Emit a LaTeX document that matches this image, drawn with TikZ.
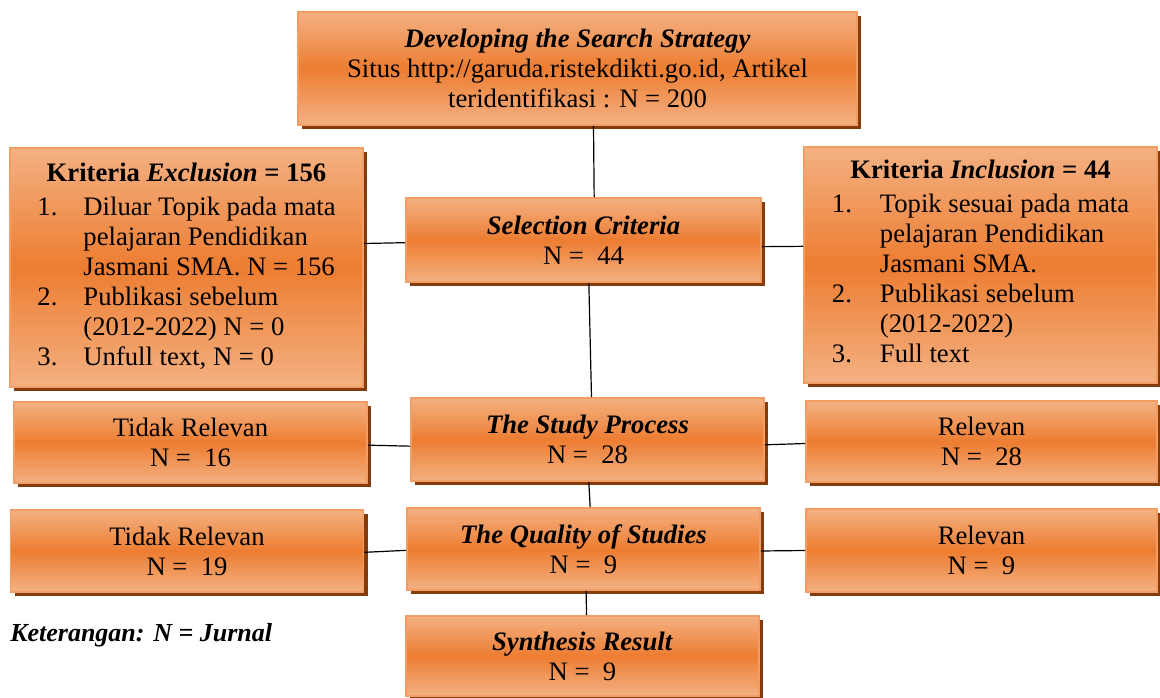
\documentclass[tikz,border=0pt]{standalone}
\usepackage{fontspec}
\setmainfont{Liberation Serif}
\usepackage{array}
\usetikzlibrary{shadows}

\definecolor{boxlight}{RGB}{244,177,131}
\definecolor{boxdark}{RGB}{237,125,49}
\definecolor{boxline}{RGB}{241,157,100}
\definecolor{boxshadow}{RGB}{132,60,12}

\begin{document}
\begin{tikzpicture}[
    x=0.75pt, y=-0.75pt,
    stagebox/.style={rectangle, draw=boxline, line width=1.2pt, top color=boxlight, bottom color=boxlight, middle color=boxdark, minimum width=264.75pt, minimum height=61.5pt, inner sep=2pt, align=center, font=\fontsize{20}{22.5}\selectfont, drop shadow={shadow xshift=3pt, shadow yshift=-3pt, opacity=1, fill=boxshadow}},
    link/.style={draw=black, line width=0.9pt}
]
    \useasboundingbox (0,0) rectangle (1160,698);

    % Main stages
    \node[stagebox, minimum width=419.25pt, minimum height=84.75pt] (search) at (577.5,68.5) {\textbf{\textit{Developing the Search Strategy}}\\Situs http://garuda.ristekdikti.go.id, Artikel\\teridentifikasi : N = 200};
    \node[stagebox, minimum width=266.25pt, minimum height=63pt] (selection) at (583.5,240) {\textbf{\textit{Selection Criteria}}\\N = \ 44};
    \node[stagebox, minimum height=62.25pt] (study) at (587.5,439.5) {\textbf{\textit{The Study Process}}\\N = \ 28};
    \node[stagebox] (quality) at (583.5,549) {\textbf{\textit{The Quality of Studies}}\\N = \ 9};
    \node[stagebox, minimum height=60pt] (synthesis) at (582.5,656) {\textbf{\textit{Synthesis Result}}\\N = \ 9};

    % Criteria
    \node[stagebox, minimum height=179.25pt] (exclusion) at (186.5,267.5) {\begin{tabular}{@{}p{34.5pt}@{}l@{}}
        \multicolumn{2}{c}{\textbf{Kriteria \textit{Exclusion} = 156}}\\[3pt]
        1. & Diluar Topik pada mata\\
           & pelajaran Pendidikan\\
           & Jasmani SMA. N = 156\\
        2. & Publikasi sebelum\\
           & (2012-2022) N = 0\\
        3. & Unfull text, N = 0
    \end{tabular}};
    \node[stagebox, minimum height=177pt] (inclusion) at (980.5,265) {\begin{tabular}{@{}p{36pt}@{}l@{}}
        \multicolumn{2}{c}{\textbf{Kriteria \textit{Inclusion} = 44}}\\[3pt]
        1. & Topik sesuai pada mata\\
           & pelajaran Pendidikan\\
           & Jasmani SMA.\\
        2. & Publikasi sebelum\\
           & (2012-2022)\\
        3. & Full text
    \end{tabular}};

    % Results
    \node[stagebox, minimum height=60.75pt] (irrelevant16) at (190.5,442.5) {Tidak Relevan\\N = \ 16};
    \node[stagebox, minimum width=263.25pt, minimum height=60.75pt] (relevant28) at (981.5,441.5) {Relevan\\N = \ 28};
    \node[stagebox] (irrelevant19) at (187,551) {Tidak Relevan\\N = \ 19};
    \node[stagebox, minimum width=263.25pt, minimum height=62.25pt] (relevant9) at (981.5,550.5) {Relevan\\N = \ 9};

    \node[anchor=west, inner sep=0pt, font=\fontsize{19.5}{22.5}\selectfont\bfseries\itshape] (note) at (10,635) {Keterangan: N = Jurnal};

    % Connectors
    \draw[link] ([xshift=12pt]search.south) -- ([xshift=8pt]selection.north);
    \draw[link] ([yshift=-2pt]selection.west) -- ([yshift=18pt]exclusion.east);
    \draw[link] ([yshift=-5pt]selection.east) -- ([yshift=14pt]inclusion.west);
    \draw[link] ([xshift=4pt]selection.south) -- ([xshift=3pt]study.north);
    \draw[link] ([yshift=-5pt]study.west) -- ([yshift=-2pt]irrelevant16.east);
    \draw[link] ([yshift=-4pt]study.east) -- ([yshift=-1.5pt]relevant28.west);
    \draw[link] ([xshift=1pt]study.south) -- ([xshift=5pt]quality.north);
    \draw[link] ([yshift=-1pt]quality.west) -- ([yshift=-1pt]irrelevant19.east);
    \draw[link] ([yshift=-1.5pt]quality.east) -- ([yshift=0pt]relevant9.west);
    \draw[link] ([xshift=2pt]quality.south) -- ([xshift=3pt]synthesis.north);
\end{tikzpicture}
\end{document}
